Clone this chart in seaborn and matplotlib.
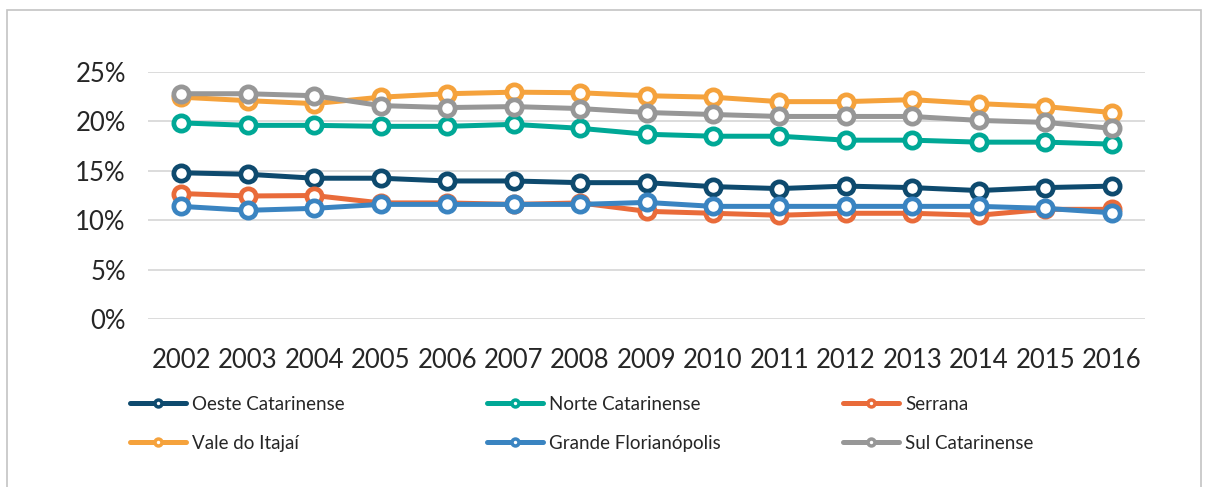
import numpy as np
import pandas as pd
import matplotlib
matplotlib.use("Agg")
import matplotlib.pyplot as plt
import seaborn as sns
from matplotlib.lines import Line2D
from matplotlib.patches import Rectangle

# anos
anos = list(range(2002, 2017))

# participação de cada mesorregião (%)
oeste = [14.8, 14.65, 14.25, 14.25, 13.97, 13.97, 13.8, 13.8, 13.4, 13.2, 13.45, 13.3, 13.0, 13.3, 13.45]
norte = [19.85, 19.6, 19.6, 19.5, 19.5, 19.7, 19.3, 18.7, 18.5, 18.5, 18.1, 18.1, 17.9, 17.9, 17.7]
serrana = [12.7, 12.45, 12.5, 11.75, 11.75, 11.6, 11.75, 10.9, 10.7, 10.5, 10.7, 10.7, 10.5, 11.1, 11.1]
vale = [22.45, 22.1, 21.8, 22.45, 22.8, 22.96, 22.9, 22.6, 22.45, 22.0, 22.0, 22.2, 21.8, 21.5, 20.9]
grande = [11.4, 11.0, 11.2, 11.6, 11.6, 11.6, 11.6, 11.8, 11.4, 11.4, 11.4, 11.4, 11.4, 11.2, 10.75]
sul = [22.8, 22.8, 22.6, 21.6, 21.4, 21.5, 21.3, 20.9, 20.7, 20.5, 20.5, 20.5, 20.1, 19.9, 19.3]

regioes = ["Oeste Catarinense", "Norte Catarinense", "Serrana",
           "Vale do Itajaí", "Grande Florianópolis", "Sul Catarinense"]
cores = ["#0E4A6E", "#00A896", "#E96B3A", "#F5A23C", "#3A84C1", "#979797"]

df = pd.DataFrame({
    "ano": anos * 6,
    "valor": oeste + norte + serrana + vale + grande + sul,
    "regiao": np.repeat(regioes, len(anos)),
})

sns.set_style("white")
plt.rcParams["font.family"] = ["Lato", "DejaVu Sans"]

fig = plt.figure(figsize=(12.1, 4.87), dpi=100)
ax = fig.add_axes([148 / 1210, 1 - 319 / 487, 997 / 1210, 247 / 487])

sns.lineplot(data=df, x="ano", y="valor", hue="regiao", hue_order=regioes,
             palette=cores, marker="o", markersize=11, linewidth=3.6,
             legend=False, ax=ax)

# marcadores vazados (borda colorida, centro branco)
for linha in ax.lines:
    linha.set_markeredgecolor(linha.get_color())
    linha.set_markerfacecolor("white")
    linha.set_markeredgewidth(3.4)

ax.set_xlim(2001.5, 2016.5)
ax.set_ylim(0, 25)
ax.set_xticks(anos)
ax.set_xticklabels([str(a) for a in anos], fontsize=18.5)
ax.set_yticks([0, 5, 10, 15, 20, 25])
ax.set_yticklabels([f"{v}%" for v in [0, 5, 10, 15, 20, 25]], fontsize=18.5)
ax.tick_params(axis="x", length=0, pad=21)
ax.tick_params(axis="y", length=0, pad=16)
ax.yaxis.grid(True, color="#D9D9D9", linewidth=1.3)
ax.xaxis.grid(False)
ax.set_axisbelow(True)
ax.set_xlabel("")
ax.set_ylabel("")
sns.despine(ax=ax, left=True, bottom=True)

# legenda em três colunas, duas linhas
colunas = [(130, [0, 3]), (487, [1, 4]), (843, [2, 5])]
for x0, idx in colunas:
    handles = [Line2D([], [], color=cores[i], linewidth=3.6, marker="o",
                      markersize=5, markerfacecolor="white",
                      markeredgecolor=cores[i], markeredgewidth=2.5)
               for i in idx]
    labels = [regioes[i] for i in idx]
    fig.legend(handles, labels, loc="upper left",
               bbox_to_anchor=(x0 / 1210, 1 - 396 / 487),
               frameon=False, fontsize=13.5, handlelength=3.0,
               handletextpad=0.3, labelspacing=1.15, borderpad=0,
               borderaxespad=0)

# moldura do gráfico
fig.patches.append(Rectangle((7 / 1210, -0.02), 1194 / 1210, 1.0 - 10 / 487 + 0.02,
                             transform=fig.transFigure, fill=False,
                             edgecolor="#C4C4C4", linewidth=1.2))

fig.savefig("out.png", dpi=100)
